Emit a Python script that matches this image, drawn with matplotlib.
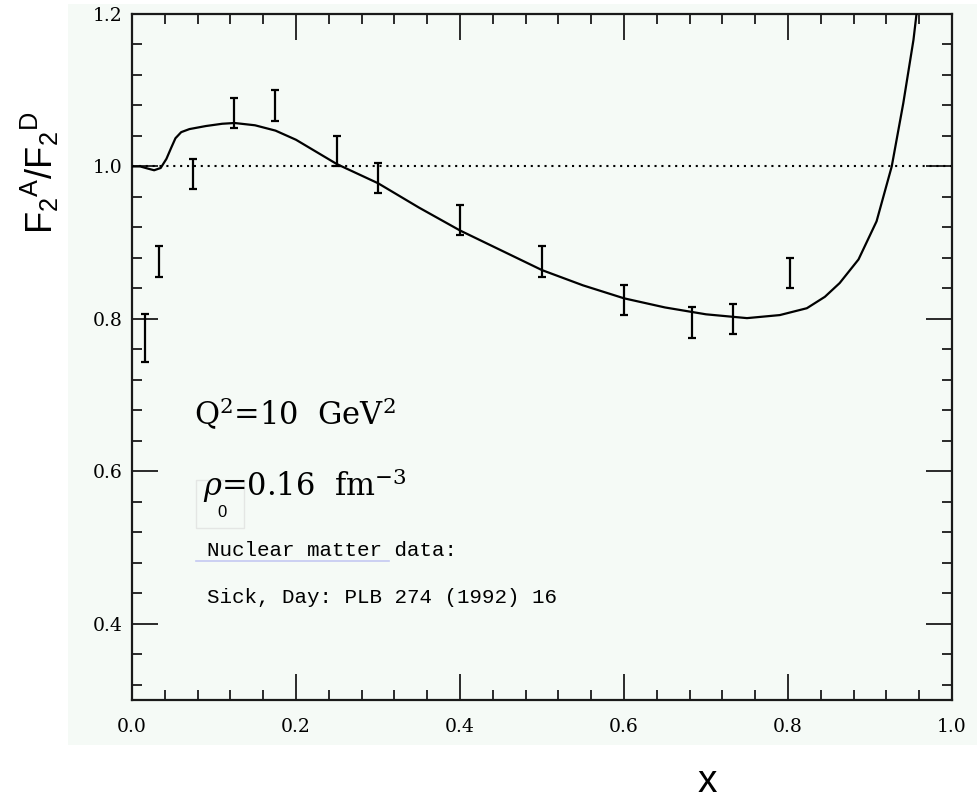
import numpy as np
import matplotlib
matplotlib.use("Agg")
import matplotlib.pyplot as plt
from matplotlib.patches import Rectangle
from matplotlib.lines import Line2D
from matplotlib.ticker import MultipleLocator

plt.rcParams["mathtext.fontset"] = "dejavuserif"

# nuclear matter data (Sick, Day)
data_x = [0.016, 0.033, 0.075, 0.125, 0.174, 0.25, 0.30, 0.40, 0.50, 0.60, 0.683, 0.733, 0.803]
data_y = [0.775, 0.875, 0.990, 1.070, 1.080, 1.020, 0.985, 0.930, 0.875, 0.825, 0.795, 0.800, 0.860]
data_err = [0.031, 0.020, 0.020, 0.020, 0.020, 0.020, 0.020, 0.020, 0.020, 0.020, 0.020, 0.020, 0.020]

# model curve
curve_x = [0.0, 0.01, 0.02, 0.027, 0.035, 0.042, 0.048, 0.053, 0.06, 0.07, 0.09, 0.11,
           0.125, 0.15, 0.175, 0.20, 0.25, 0.30, 0.35, 0.40, 0.45, 0.50, 0.55, 0.60,
           0.65, 0.70, 0.75, 0.79, 0.823, 0.845, 0.863, 0.886, 0.908, 0.9265, 0.9406,
           0.953, 0.96]
curve_y = [1.0, 1.0, 0.997, 0.995, 0.998, 1.01, 1.025, 1.037, 1.045, 1.049, 1.053, 1.056,
           1.057, 1.054, 1.047, 1.035, 1.003, 0.978, 0.946, 0.916, 0.890, 0.864, 0.844, 0.827,
           0.815, 0.806, 0.801, 0.805, 0.814, 0.829, 0.847, 0.878, 0.928, 1.0, 1.083,
           1.166, 1.23]

x_ticks = [0.0, 0.2, 0.4, 0.6, 0.8, 1.0]
y_ticks = [0.4, 0.6, 0.8, 1.0, 1.2]

bg = "#f5faf6"

fig = plt.figure(figsize=(9.78, 8.01), dpi=100, facecolor="white")
# pale panel behind the plot
fig.patches.append(Rectangle((68 / 978, 1 - 745 / 801), 910 / 978, 741 / 801,
                             transform=fig.transFigure, facecolor=bg, edgecolor="none",
                             zorder=-10))

ax = fig.add_axes([132 / 978, 1 - 700 / 801, 820 / 978, 686 / 801])
ax.set_facecolor(bg)

ax.axhline(1.0, color="black", lw=1.5, linestyle=(0, (1, 2.3)), zorder=2)
ax.plot(curve_x, curve_y, color="black", lw=1.6, zorder=3)
ax.errorbar(data_x, data_y, yerr=data_err, fmt="none", ecolor="black",
            elinewidth=1.6, capsize=3, capthick=1.6, zorder=4)

ax.set_xlim(0, 1.0)
ax.set_ylim(0.3, 1.2)
ax.set_xticks(x_ticks)
ax.set_yticks(y_ticks)
ax.set_xticklabels([f"{v:.1f}" for v in x_ticks])
ax.set_yticklabels([f"{v:.1f}" for v in y_ticks])
ax.xaxis.set_minor_locator(MultipleLocator(0.04))
ax.yaxis.set_minor_locator(MultipleLocator(0.04))
ax.tick_params(which="both", direction="in", top=True, right=True, color="#1a1a1a")
ax.tick_params(which="major", length=19, width=1.3)
ax.tick_params(which="minor", length=7, width=1.3)
ax.tick_params(axis="y", which="major", pad=7)
ax.tick_params(axis="x", which="major", pad=13)
for lab in ax.get_xticklabels() + ax.get_yticklabels():
    lab.set_family("DejaVu Serif")
    lab.set_fontsize(13.5)
for s in ax.spines.values():
    s.set_linewidth(1.6)
    s.set_color("#1a1a1a")

# annotations
ax.text(0.076, 0.66, r"Q$^2$=10  GeV$^2$", family="DejaVu Serif", fontsize=22, va="baseline")
ax.text(0.0866, 0.568, r"$\rho$=0.16  fm$^{-3}$", family="DejaVu Serif", fontsize=22,
        va="baseline")
ax.text(0.1098, 0.2726, "0", family="Liberation Sans", fontsize=12,
        ha="center", va="center", transform=ax.transAxes)
ax.add_patch(Rectangle((0.078, 0.2507), 0.0586, 0.07, transform=ax.transAxes,
                       facecolor="none", edgecolor="#e4e6e4", lw=1.0, zorder=1))
ax.text(0.0915, 0.4883, "Nuclear matter data:", family="Liberation Mono", fontsize=15,
        va="baseline")
ax.text(0.0915, 0.4267, "Sick, Day: PLB 274 (1992) 16", family="Liberation Mono", fontsize=15,
        va="baseline")
ax.add_line(Line2D([0.078, 0.3134], [0.203, 0.203], transform=ax.transAxes,
                   color="#c4c8f2", lw=1.2))

fig.text(40 / 978, 1 - 173 / 801, r"$\mathregular{F_2{}^A/F_2{}^D}$", family="Liberation Sans",
         fontsize=26, rotation=90, ha="center", va="center")
fig.text(707 / 978, 1 - 792 / 801, "x", family="Liberation Sans", fontsize=28,
         ha="center", va="baseline")

fig.savefig("out.png", dpi=100, facecolor="white")
